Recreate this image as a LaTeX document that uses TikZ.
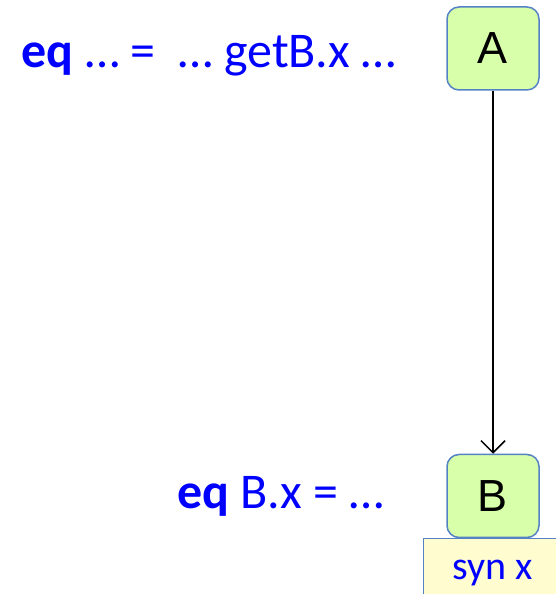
\documentclass[tikz,border=0pt]{standalone}
\usepackage{fontspec}
\setmainfont{Carlito}
\newfontfamily\boxfont{Liberation Sans}
\usetikzlibrary{positioning, arrows.meta}
\definecolor{nodegreen}{RGB}{216,255,170}
\definecolor{nodeedge}{RGB}{84,130,196}
\definecolor{synyellow}{RGB}{255,253,208}
\definecolor{eqblue}{RGB}{0,0,255}

\begin{document}
\begin{tikzpicture}[
  x=1pt, y=1pt,
  classbox/.style={
    rectangle,
    draw=nodeedge,
    line width=1.5pt,
    rounded corners=12pt,
    fill=nodegreen,
    minimum width=92pt,
    minimum height=83pt,
    font=\boxfont\fontsize{45}{52}\selectfont},
  eqtext/.style={
    inner sep=0pt,
    text=eqblue,
    font=\fontsize{50}{58}\selectfont}
  ]
  \clip (0,0) rectangle (556,594);

  \node[classbox] (a) at (493,545.5) {A};

  \node[classbox, below=363pt of a] (b) {B};

  \node[
  rectangle,
  draw=nodeedge,
  line width=1pt,
  fill=synyellow,
  anchor=north west,
  minimum width=138pt,
  minimum height=70pt,
  text=eqblue,
  font=\fontsize{40}{46}\selectfont] (syn) at (423,56) {syn x};

  \node[eqtext, left=50pt of a, yshift=-7pt] (geteq) {\textbf{eq} … =\ \ … getB.x …};

  \node[eqtext, left=62pt of b] (defeq) {\textbf{eq} B.x = …};

  \draw[-{Straight Barb[length=12pt,width=24pt]}, line width=1.5pt] (a)--(b);
\end{tikzpicture}
\end{document}
